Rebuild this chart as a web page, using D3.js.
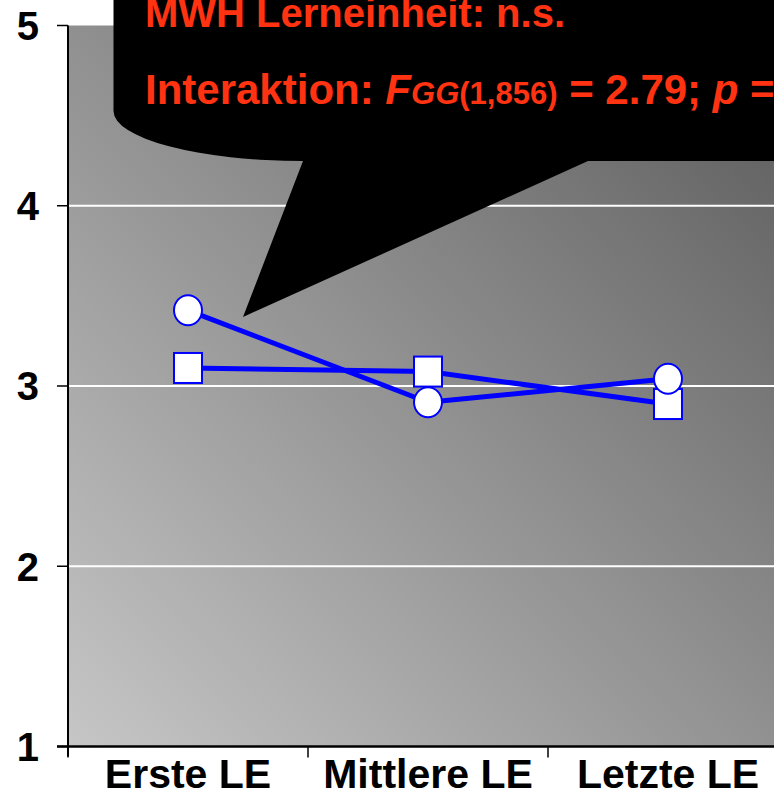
<!DOCTYPE html>
<html>
<head>
<meta charset="utf-8">
<script src="https://cdn.jsdelivr.net/npm/d3@7"></script>
<style>
  html, body { margin: 0; padding: 0; background: #fff; overflow: hidden; }
  svg { display: block; font-family: "Liberation Sans", Arial, Helvetica, sans-serif; }
</style>
</head>
<body>
<svg id="chart" width="774" height="797"></svg>
<script>
// Learning units on the x axis
const categories = ["Erste LE", "Mittlere LE", "Letzte LE"];
// Mean ratings per learning unit, one series per group
const circleSeries = [3.42, 2.91, 3.04];
const squareSeries = [3.10, 3.08, 2.90];
// Y axis ticks
const yTicks = [1, 2, 3, 4, 5];
const gridTicks = [2, 3, 4];

const svg = d3.select("#chart");

const plot = { left: 68, right: 788, top: 25.5, bottom: 746.5 };

const x = d3.scaleBand().domain(categories).range([plot.left, plot.right]);
const y = d3.scaleLinear().domain([1, 5]).range([plot.bottom, plot.top]);
const cx = c => x(c) + x.bandwidth() / 2;

// Diagonal grey gradient background
const defs = svg.append("defs");
const grad = defs.append("linearGradient")
  .attr("id", "bg")
  .attr("gradientUnits", "userSpaceOnUse")
  .attr("x1", plot.left).attr("y1", plot.bottom)
  .attr("x2", plot.right).attr("y2", plot.top);
grad.append("stop").attr("offset", "0%").attr("stop-color", "#c6c6c6");
grad.append("stop").attr("offset", "100%").attr("stop-color", "#5a5a5a");

svg.append("rect")
  .attr("x", plot.left).attr("y", plot.top)
  .attr("width", plot.right - plot.left).attr("height", plot.bottom - plot.top)
  .attr("fill", "url(#bg)");

// White gridlines
svg.append("g").selectAll("line").data(gridTicks).join("line")
  .attr("x1", plot.left).attr("x2", plot.right)
  .attr("y1", d => y(d)).attr("y2", d => y(d))
  .attr("stroke", "#fff").attr("stroke-width", 2);

// Series lines
const line = d3.line().x((d, i) => cx(categories[i])).y(d => y(d));
[squareSeries, circleSeries].forEach(s => {
  svg.append("path").datum(s)
    .attr("d", line)
    .attr("fill", "none")
    .attr("stroke", "#0000ff")
    .attr("stroke-width", 5)
    .attr("stroke-linejoin", "round");
});

// Square markers
svg.append("g").selectAll("rect").data(squareSeries).join("rect")
  .attr("x", (d, i) => cx(categories[i]) - 14)
  .attr("y", d => y(d) - 15)
  .attr("width", 28).attr("height", 30)
  .attr("fill", "#fff").attr("stroke", "#0000ff").attr("stroke-width", 2);

// Circle markers
svg.append("g").selectAll("ellipse").data(circleSeries).join("ellipse")
  .attr("cx", (d, i) => cx(categories[i]))
  .attr("cy", d => y(d))
  .attr("rx", 14).attr("ry", 15)
  .attr("fill", "#fff").attr("stroke", "#0000ff").attr("stroke-width", 2);

// Y axis
const yAxis = svg.append("g");
yAxis.append("line")
  .attr("x1", plot.left).attr("x2", plot.left)
  .attr("y1", plot.top).attr("y2", plot.bottom + 10)
  .attr("stroke", "#000").attr("stroke-width", 2);
yAxis.selectAll("line.tick").data(yTicks).join("line")
  .attr("class", "tick")
  .attr("x1", plot.left - 11).attr("x2", plot.left)
  .attr("y1", d => y(d)).attr("y2", d => y(d))
  .attr("stroke", "#000").attr("stroke-width", 1.5);
yAxis.selectAll("text").data(yTicks).join("text")
  .attr("x", 39).attr("y", d => y(d)).attr("dy", "0.36em")
  .attr("text-anchor", "end")
  .attr("font-size", 40).attr("font-weight", "bold")
  .text(d => d);

// X axis
const xAxis = svg.append("g");
xAxis.append("line")
  .attr("x1", plot.left - 11).attr("x2", plot.right)
  .attr("y1", plot.bottom).attr("y2", plot.bottom)
  .attr("stroke", "#000").attr("stroke-width", 2.5);
const bounds = categories.map(c => x(c)).concat([plot.right]);
xAxis.selectAll("line.tick").data(bounds).join("line")
  .attr("class", "tick")
  .attr("x1", d => d).attr("x2", d => d)
  .attr("y1", plot.bottom).attr("y2", plot.bottom + 11)
  .attr("stroke", "#000").attr("stroke-width", 1.5);
xAxis.selectAll("text").data(categories).join("text")
  .attr("x", d => cx(d)).attr("y", 788)
  .attr("text-anchor", "middle")
  .attr("font-size", 41).attr("font-weight", "bold")
  .text(d => d);

// Speech-bubble callout with statistics
const bubble = d3.path();
bubble.moveTo(113.5, -60);
bubble.lineTo(820, -60);
bubble.lineTo(820, 161);
bubble.lineTo(588, 161);
bubble.lineTo(243, 317);
bubble.lineTo(303, 161);
svg.append("path")
  .attr("d", bubble.toString() + " A 190 50 0 0 1 113.5 111 Z")
  .attr("fill", "#000");

const red = "#ff3311";
svg.append("text")
  .attr("x", 145).attr("y", 27)
  .attr("font-size", 40).attr("font-weight", "bold").attr("fill", red)
  .text("MWH Lerneinheit: n.s.");

const stat = svg.append("text")
  .attr("x", 145).attr("y", 104)
  .attr("font-size", 42).attr("font-weight", "bold").attr("fill", red)
  .attr("xml:space", "preserve");
stat.append("tspan").text("Interaktion: ");
stat.append("tspan").attr("font-style", "italic").text("F");
stat.append("tspan").attr("font-style", "italic").attr("font-size", 31).text("GG");
stat.append("tspan").attr("font-size", 31).text("(1,856)");
stat.append("tspan").text(" = 2.79; ");
stat.append("tspan").attr("font-style", "italic").text("p");
stat.append("tspan").text(" =");
</script>
</body>
</html>
